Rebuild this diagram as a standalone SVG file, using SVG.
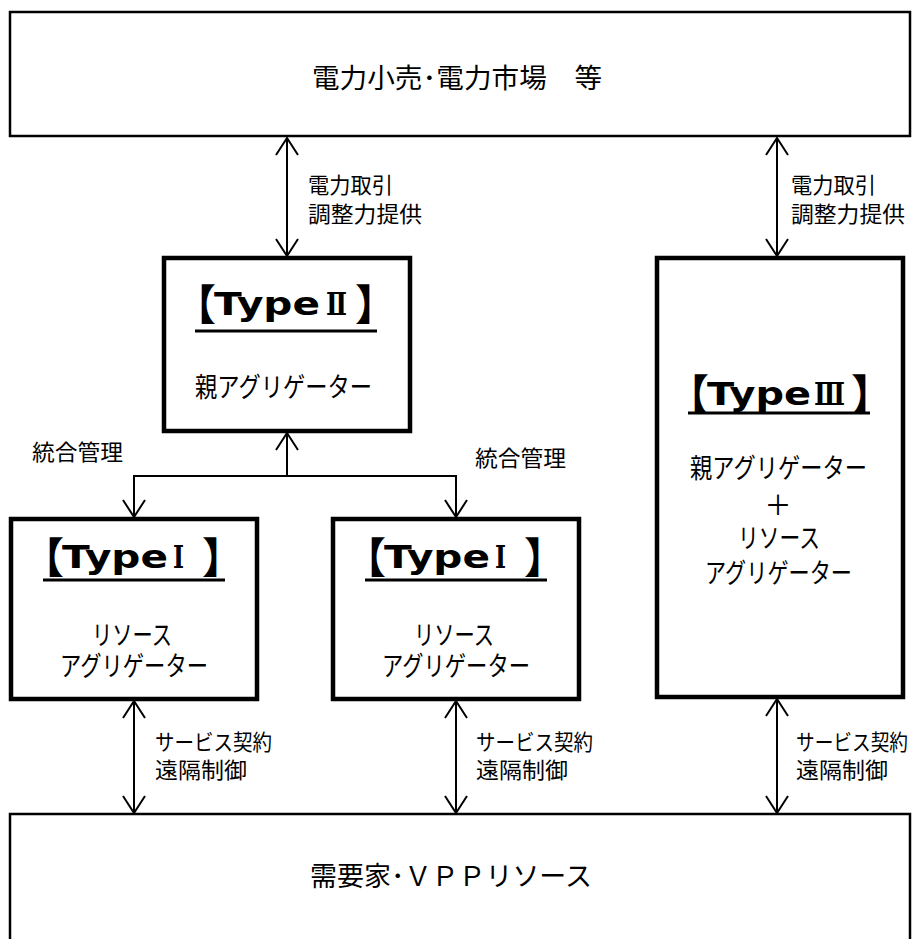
<svg xmlns="http://www.w3.org/2000/svg" width="919" height="939" viewBox="0 0 919 939">
<defs>
<style>
.box{fill:#fff;stroke:#000;stroke-width:4.5}
.thin{fill:#fff;stroke:#000;stroke-width:2.5}
.t{font-family:"Noto Sans CJK JP","Liberation Sans",sans-serif;font-size:27px;fill:#000}
.s{font-family:"Noto Sans CJK JP","Liberation Sans",sans-serif;font-size:22px;fill:#000}
.h{font-family:"Noto Sans CJK JP","DejaVu Sans",sans-serif;font-weight:bold;fill:#000;font-size:32px}
.br{font-size:42px}
.hl{font-family:"DejaVu Sans","Noto Sans CJK JP",sans-serif;font-weight:bold;font-size:32px}
.rn{font-family:"DejaVu Serif","Noto Sans CJK JP",serif;font-weight:bold;font-size:32px}
.u{stroke:#000;stroke-width:3}
.c{fill:none;stroke:#000;stroke-width:2}
</style>
<marker id="ah" viewBox="0 0 19 24" refX="18" refY="12" markerWidth="19" markerHeight="24" markerUnits="userSpaceOnUse" orient="auto-start-reverse">
<path d="M1,1 L18,12 L1,23" fill="none" stroke="#000" stroke-width="2"/>
</marker>
</defs>
<g id="connectors">
<line class="c" x1="287" y1="138" x2="287" y2="256" marker-start="url(#ah)" marker-end="url(#ah)"/>
<line class="c" x1="777" y1="138" x2="777" y2="256" marker-start="url(#ah)" marker-end="url(#ah)"/>
<line class="c" x1="287" y1="476" x2="287" y2="433" marker-end="url(#ah)"/>
<polyline class="c" points="134,516 134,476 456,476 456,516"/>
<line class="c" x1="134" y1="496" x2="134" y2="517" marker-end="url(#ah)"/>
<line class="c" x1="456" y1="496" x2="456" y2="517" marker-end="url(#ah)"/>
<line class="c" x1="134" y1="701" x2="134" y2="813" marker-start="url(#ah)" marker-end="url(#ah)"/>
<line class="c" x1="456" y1="701" x2="456" y2="813" marker-start="url(#ah)" marker-end="url(#ah)"/>
<line class="c" x1="777" y1="699" x2="777" y2="813" marker-start="url(#ah)" marker-end="url(#ah)"/>
<text class="s" x="308" y="193" textLength="85" lengthAdjust="spacingAndGlyphs">電力取引</text>
<text class="s" x="308" y="222" textLength="114" lengthAdjust="spacingAndGlyphs">調整力提供</text>
<text class="s" x="791" y="193" textLength="85" lengthAdjust="spacingAndGlyphs">電力取引</text>
<text class="s" x="791" y="222" textLength="114" lengthAdjust="spacingAndGlyphs">調整力提供</text>
<text class="s" x="32" y="460" textLength="91" lengthAdjust="spacingAndGlyphs">統合管理</text>
<text class="s" x="475" y="466" textLength="91" lengthAdjust="spacingAndGlyphs">統合管理</text>
<text class="s" x="155" y="750" textLength="117" lengthAdjust="spacingAndGlyphs">サービス契約</text>
<text class="s" x="155" y="778" textLength="92" lengthAdjust="spacingAndGlyphs">遠隔制御</text>
<text class="s" x="476" y="750" textLength="117" lengthAdjust="spacingAndGlyphs">サービス契約</text>
<text class="s" x="476" y="778" textLength="92" lengthAdjust="spacingAndGlyphs">遠隔制御</text>
<text class="s" x="796" y="750" textLength="112" lengthAdjust="spacingAndGlyphs">サービス契約</text>
<text class="s" x="796" y="778" textLength="92" lengthAdjust="spacingAndGlyphs">遠隔制御</text>
</g>
<g id="market">
<rect class="thin" x="10" y="12" width="900" height="124"/>
<text class="t" x="312" y="88" textLength="290" lengthAdjust="spacingAndGlyphs">電力小売･電力市場　等</text>
</g>
<g id="type2">
<rect class="box" x="164" y="258" width="246" height="173"/>
<text class="h" y="315"><tspan class="br" x="174" y="320">【</tspan><tspan class="hl" x="214" y="315" textLength="106" lengthAdjust="spacingAndGlyphs">Type</tspan><tspan class="rn" x="326" y="315" textLength="21" lengthAdjust="spacingAndGlyphs">Ⅱ</tspan><tspan class="br" x="355" y="320">】</tspan></text>
<line class="u" x1="195" y1="331" x2="377" y2="331"/>
<text class="t" x="195" y="397" textLength="177" lengthAdjust="spacingAndGlyphs">親アグリゲーター</text>
</g>
<g id="type1a">
<rect class="box" x="11" y="519" width="246" height="180"/>
<text class="h" y="568"><tspan class="br" x="22" y="573">【</tspan><tspan class="hl" x="62" y="568" textLength="106" lengthAdjust="spacingAndGlyphs">Type</tspan><tspan class="rn" x="173" y="568" textLength="11" lengthAdjust="spacingAndGlyphs">Ⅰ</tspan><tspan class="br" x="202" y="573">】</tspan></text>
<line class="u" x1="43" y1="580" x2="225" y2="580"/>
<text class="t" x="92" y="645" textLength="80" lengthAdjust="spacingAndGlyphs">リソース</text>
<text class="t" x="60" y="676" textLength="148" lengthAdjust="spacingAndGlyphs">アグリゲーター</text>
</g>
<g id="type1b">
<rect class="box" x="333" y="519" width="246" height="180"/>
<text class="h" y="568"><tspan class="br" x="344" y="573">【</tspan><tspan class="hl" x="384" y="568" textLength="106" lengthAdjust="spacingAndGlyphs">Type</tspan><tspan class="rn" x="495" y="568" textLength="11" lengthAdjust="spacingAndGlyphs">Ⅰ</tspan><tspan class="br" x="524" y="573">】</tspan></text>
<line class="u" x1="365" y1="580" x2="547" y2="580"/>
<text class="t" x="414" y="645" textLength="80" lengthAdjust="spacingAndGlyphs">リソース</text>
<text class="t" x="382" y="676" textLength="148" lengthAdjust="spacingAndGlyphs">アグリゲーター</text>
</g>
<g id="type3">
<rect class="box" x="657" y="258" width="246" height="439"/>
<text class="h" y="405"><tspan class="br" x="667" y="410">【</tspan><tspan class="hl" x="707" y="405" textLength="104" lengthAdjust="spacingAndGlyphs">Type</tspan><tspan class="rn" x="814" y="405" textLength="31" lengthAdjust="spacingAndGlyphs">Ⅲ</tspan><tspan class="br" x="851" y="410">】</tspan></text>
<line class="u" x1="688" y1="413" x2="870" y2="413"/>
<text class="t" x="690" y="478" textLength="177" lengthAdjust="spacingAndGlyphs">親アグリゲーター</text>
<text class="t" x="778" y="515" text-anchor="middle">＋</text>
<text class="t" x="738" y="548" textLength="82" lengthAdjust="spacingAndGlyphs">リソース</text>
<text class="t" x="705" y="583" textLength="147" lengthAdjust="spacingAndGlyphs">アグリゲーター</text>
</g>
<g id="consumers">
<rect class="thin" x="10" y="814" width="900" height="140"/>
<text class="t" x="310" y="886" textLength="282" lengthAdjust="spacingAndGlyphs">需要家･ＶＰＰリソース</text>
</g>
</svg>
